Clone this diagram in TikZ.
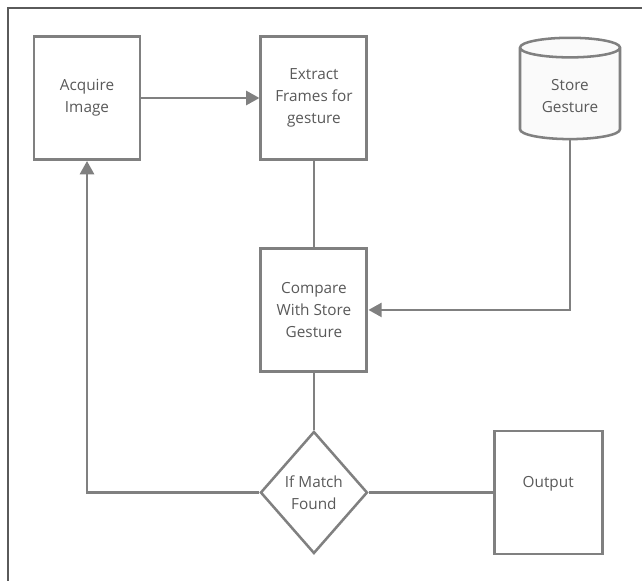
\documentclass[tikz,border=0pt]{standalone}
\usepackage{fontspec}
\setmainfont{Open Sans}
\usepackage{xcolor}
\usepackage{tikz}
\usetikzlibrary{shapes.geometric,arrows.meta,positioning}

\definecolor{edgegray}{HTML}{808080}
\definecolor{textgray}{HTML}{595959}
\definecolor{framegray}{HTML}{5A5A5A}

\begin{document}
\begin{tikzpicture}[
    x=0.75pt, y=-0.75pt,
    every node/.style={font=\fontsize{11.5}{16.5}\selectfont, text=textgray},
    box/.style={draw=edgegray, line width=2.2pt, minimum width=79.5pt, minimum height=92.25pt, align=center, inner sep=2pt},
    decision/.style={draw=edgegray, line width=1.9pt, diamond, aspect=0.88, minimum width=80.25pt, minimum height=91.5pt, inner sep=0pt, align=center},
    store/.style={draw=edgegray, line width=1.9pt, cylinder, shape border rotate=90, aspect=0.3, minimum width=75pt, minimum height=76pt, cylinder uses custom fill, cylinder body fill=gray!4, cylinder end fill=gray!4, align=center},
    line/.style={draw=edgegray, line width=2pt},
    arrow/.style={line, -{Triangle[length=10pt,width=10.5pt]}}
]
    \useasboundingbox (0,0) rectangle (642,581);
    \draw[framegray, line width=1pt] (8,581) -- (8,8) -- (642,8);

    \node[box] (acquire) at (87,98) {Acquire\\Image};
    \node[box, right=88.5pt of acquire] (extract) {Extract\\Frames for\\gesture};
    \node[box, below=64.5pt of extract] (compare) {Compare\\With Store\\Gesture};
    \node[decision, below=43pt of compare] (match) {If Match\\Found};
    \node[box, right=93pt of match, minimum width=81pt, text height=8pt, text depth=15pt] (output) {Output};
    \node[store] (gesture) at (570,96) {Store\\Gesture};

    \draw[arrow] (acquire) -- (extract);
    \draw[line] (extract) -- (compare);
    \draw[arrow] (gesture.south) |- (compare.east);
    \draw[line] (compare) -- (match);
    \draw[line] (match) -- (output);
    \draw[arrow] (match.west) -| (acquire.south);
\end{tikzpicture}
\end{document}
